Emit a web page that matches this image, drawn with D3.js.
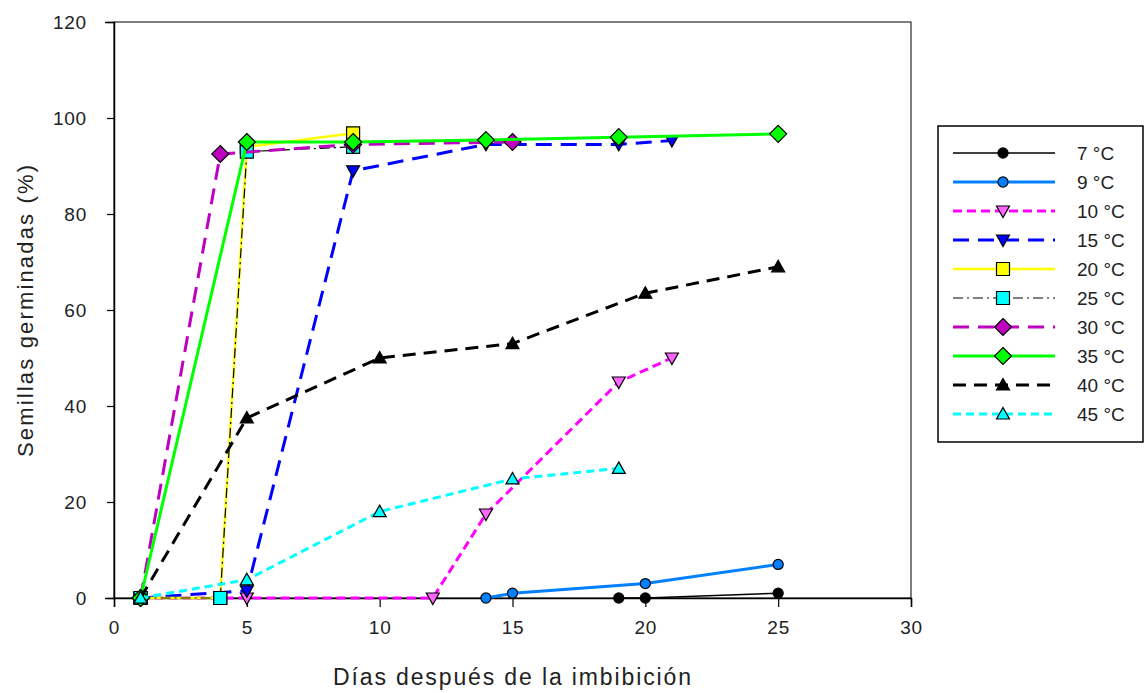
<!DOCTYPE html>
<html><head><meta charset="utf-8">
<script src="https://cdn.jsdelivr.net/npm/d3@7"></script>
<style>html,body{margin:0;padding:0;background:#fff;}svg{display:block;}</style>
</head><body><svg id="c" width="1144" height="693"></svg>
<script>
const seriesNames = ["7 °C","9 °C","10 °C","15 °C","20 °C","25 °C","30 °C","35 °C","40 °C","45 °C"];
const days7  = [19, 20, 25];            const vals7  = [0, 0, 1];
const days9  = [14, 15, 20, 25];        const vals9  = [0, 1, 3, 7];
const days10 = [1, 5, 12, 14, 19, 21];  const vals10 = [0, 0, 0, 17.5, 45, 50];
const days15 = [1, 5, 9, 14, 19, 21];   const vals15 = [0, 1.5, 89, 94.5, 94.5, 95.3];
const days20 = [1, 4, 5, 9];            const vals20 = [0, 0, 94, 96.8];
const days25 = [1, 4, 5, 9];            const vals25 = [0, 0, 93, 94];
const days30 = [1, 4, 9, 15];           const vals30 = [0, 92.5, 94.5, 95];
const days35 = [1, 5, 9, 14, 19, 25];   const vals35 = [0, 95, 95, 95.4, 96, 96.7];
const days40 = [1, 5, 10, 15, 20, 25];  const vals40 = [0, 37.5, 50, 53, 63.5, 69];
const days45 = [1, 5, 10, 15, 19];      const vals45 = [0, 3.8, 18, 24.8, 27];
const xTicks = [0, 5, 10, 15, 20, 25, 30];
const yTicks = [0, 20, 40, 60, 80, 100, 120];

const allDays = [days7,days9,days10,days15,days20,days25,days30,days35,days40,days45];
const allVals = [vals7,vals9,vals10,vals15,vals20,vals25,vals30,vals35,vals40,vals45];

const styles = [
  {line:"#000000", w:1.5, dash:null, marker:"circle", fill:"#000000"},
  {line:"#0080ff", w:3, dash:null, marker:"circle", fill:"#0080ff"},
  {line:"#ff00ff", w:3, dash:"9,5", marker:"down", fill:"#ff66ff"},
  {line:"#0000ff", w:3, dash:"16,9", marker:"down", fill:"#0000ff"},
  {line:"#ffff00", w:2.5, dash:null, marker:"square", fill:"#ffff00"},
  {line:"#000000", w:1.2, dash:"10,4,2,4", marker:"square", fill:"#00ffff"},
  {line:"#c000c0", w:3, dash:"16,9", marker:"diamond", fill:"#c000c0"},
  {line:"#00ff00", w:3, dash:null, marker:"diamond", fill:"#00ff00"},
  {line:"#000000", w:3, dash:"13,8", marker:"up", fill:"#000000"},
  {line:"#00ffff", w:3, dash:"8,5", marker:"up", fill:"#00ffff"}
];

const svg = d3.select("#c");
const x = d3.scaleLinear().domain([0,30]).range([114,911]);
const y = d3.scaleLinear().domain([0,120]).range([598,22]);
const font = "'Liberation Sans', Arial, sans-serif";

// frame
svg.append("rect").attr("x",114).attr("y",22).attr("width",911-114).attr("height",598-22)
  .attr("fill","none").attr("stroke","#000").attr("stroke-width",1);

const xAxis = svg.append("g").attr("transform","translate(0,598)")
  .call(d3.axisBottom(x).tickValues(xTicks).tickSize(9).tickPadding(14));
const yAxis = svg.append("g").attr("transform","translate(114,0)")
  .call(d3.axisLeft(y).tickValues(yTicks).tickSize(9).tickPadding(18));
[xAxis,yAxis].forEach(a=>{
  a.select(".domain").attr("stroke","#000").attr("stroke-width",1.5);
  a.selectAll(".tick line").attr("stroke","#000").attr("stroke-width",1.2);
  a.selectAll("text").attr("font-family",font).attr("font-size",19).attr("fill","#222")
    .attr("letter-spacing",0.8);
});
yAxis.selectAll(".tick line").attr("x1",-7).attr("x2",0);

svg.append("text").attr("x",512).attr("y",685).attr("text-anchor","middle")
  .attr("font-family",font).attr("font-size",23).attr("fill","#222")
  .attr("textLength",358).attr("lengthAdjust","spacing").text("Días después de la imbibición");
svg.append("text").attr("transform","translate(33,311) rotate(-90)").attr("text-anchor","middle")
  .attr("font-family",font).attr("font-size",22).attr("fill","#222")
  .attr("textLength",292).attr("lengthAdjust","spacing").text("Semillas germinadas (%)");

function markerPath(type){
  switch(type){
    case "circle": return d3.symbol().type(d3.symbolCircle).size(80)();
    case "square": return "M-6.5,-6.5H6.5V6.5H-6.5Z";
    case "diamond": return "M0,-8.5L8.5,0L0,8.5L-8.5,0Z";
    case "down": return "M-6.5,-5H6.5L0,6.5Z";
    case "up": return "M0,-6.5L6.5,5H-6.5Z";
  }
}

const line = d3.line().x(d=>x(d[0])).y(d=>y(d[1]));
seriesNames.forEach((name,i)=>{
  const st = styles[i];
  const pts = allDays[i].map((d,j)=>[d, allVals[i][j]]);
  const g = svg.append("g");
  g.append("path").attr("d",line(pts)).attr("fill","none").attr("stroke",st.line)
    .attr("stroke-width",st.w).attr("stroke-dasharray",st.dash);
  g.selectAll("path.m").data(pts).enter().append("path").attr("class","m")
    .attr("d",markerPath(st.marker)).attr("transform",d=>`translate(${x(d[0])},${y(d[1])})`)
    .attr("fill",st.fill).attr("stroke","#000").attr("stroke-width",1.2);
});

// legend
const lg = svg.append("g");
lg.append("rect").attr("x",938).attr("y",126).attr("width",205).attr("height",316)
  .attr("fill","#fff").attr("stroke","#000").attr("stroke-width",1.5);
const legendY = d3.scalePoint().domain(seriesNames).range([153,414]);
seriesNames.forEach((name,i)=>{
  const st = styles[i];
  const yy = legendY(name);
  lg.append("line").attr("x1",953).attr("x2",1055).attr("y1",yy).attr("y2",yy)
    .attr("stroke",st.line).attr("stroke-width",st.w).attr("stroke-dasharray",st.dash);
  lg.append("path").attr("d",markerPath(st.marker)).attr("transform",`translate(1003,${yy})`)
    .attr("fill",st.fill).attr("stroke","#000").attr("stroke-width",1.2);
  lg.append("text").attr("x",1077).attr("y",yy+7).attr("font-family",font).attr("font-size",19)
    .attr("fill","#222").text(name);
});
</script></body></html>
